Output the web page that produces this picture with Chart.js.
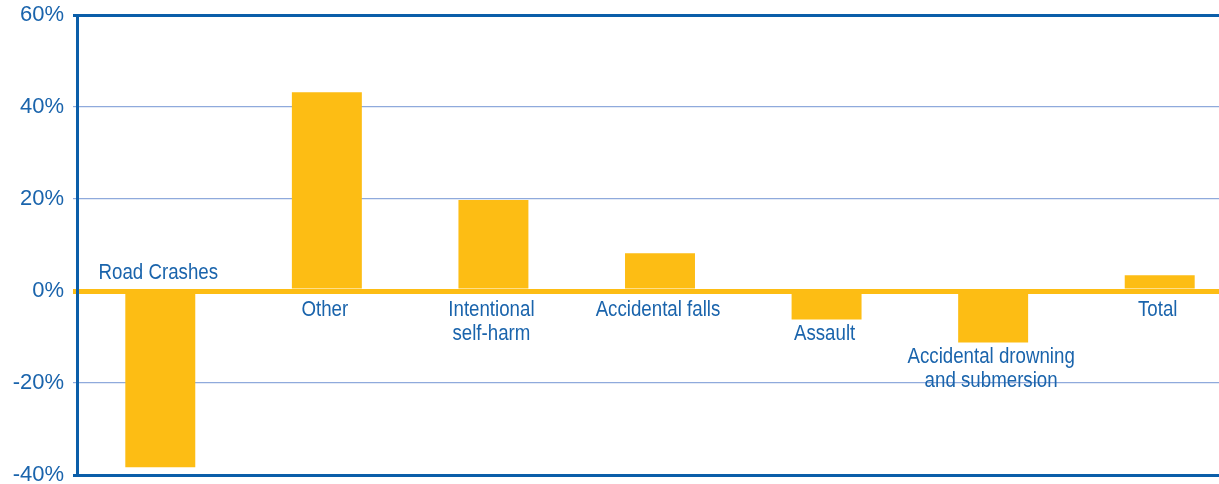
<!DOCTYPE html>
<html>
<head>
<meta charset="utf-8">
<script src="https://cdn.jsdelivr.net/npm/chart.js@4/dist/chart.umd.min.js"></script>
<style>
  html, body { margin: 0; padding: 0; background: #fff; overflow: hidden; }
  #wrap { width: 1219px; height: 484px; overflow: hidden; }
  #chart { display: block; }
</style>
</head>
<body>
<div id="wrap"><canvas id="chart" width="1243" height="484"></canvas></div>
<script>
// change in deaths by cause (%)
const causes = [
  ["Road Crashes"],
  ["Other"],
  ["Intentional", "self-harm"],
  ["Accidental falls"],
  ["Assault"],
  ["Accidental drowning", "and submersion"],
  ["Total"]
];
const changePct = [-38.3, 43.2, 19.8, 8.2, -6.2, -11.2, 3.4];
const yTicks = [-40, -20, 0, 20, 40, 60];

const YELLOW = "#FDBD14";
const DARK_BLUE = "#0B5EA9";
const GRID_BLUE = "#8FAADC";
const TEXT_BLUE = "#1A64AC";
const FONT = '"Liberation Sans", Arial, sans-serif';
const NARROW = 0.85; // squeeze category names to a narrow face

// category names sit under the zero line, or under a negative bar;
// a very long negative bar gets its name above the axis instead
const causeLabels = {
  id: "causeLabels",
  afterDatasetsDraw(chart) {
    const ctx = chart.ctx;
    const y = chart.scales.y;
    const zero = y.getPixelForValue(0);
    const deep = y.getPixelForValue(-20);
    const bars = chart.getDatasetMeta(0).data;
    ctx.save();
    ctx.font = "22px " + FONT;
    ctx.fillStyle = TEXT_BLUE;
    ctx.textAlign = "center";
    ctx.textBaseline = "middle";
    bars.forEach((bar, i) => {
      const lines = causes[i];
      let top;
      if (changePct[i] >= 0) top = zero + 19;
      else if (bar.y > deep) top = zero - 18 - (lines.length - 1) * 24;
      else top = bar.y + 14;
      lines.forEach((txt, k) => {
        ctx.save();
        ctx.translate(bar.x - 2, top + k * 24);
        ctx.scale(NARROW, 1);
        ctx.fillText(txt, 0, 0);
        ctx.restore();
      });
    });
    ctx.restore();
  }
};

new Chart(document.getElementById("chart"), {
  type: "bar",
  data: {
    labels: causes.map(c => c.join(" ")),
    datasets: [{
      data: changePct,
      backgroundColor: YELLOW,
      borderWidth: 0,
      categoryPercentage: 1,
      barPercentage: 0.42
    }]
  },
  options: {
    responsive: false,
    animation: false,
    layout: { padding: { top: 15, bottom: 9, left: 0, right: 0 } },
    plugins: {
      legend: { display: false },
      tooltip: { enabled: false }
    },
    scales: {
      x: { display: false },
      y: {
        min: -40,
        max: 60,
        afterBuildTicks: scale => { scale.ticks = yTicks.map(v => ({ value: v })); },
        afterFit: scale => {
          scale.width = 77;
          scale.paddingTop = 0;
          scale.paddingBottom = 0;
        },
        border: { display: true, color: DARK_BLUE, width: 3 },
        grid: {
          tickLength: 4,
          color: c => {
            const v = c.tick && c.tick.value;
            if (v === 0) return YELLOW;
            if (v === 60 || v === -40) return DARK_BLUE;
            return GRID_BLUE;
          },
          lineWidth: c => {
            const v = c.tick && c.tick.value;
            if (v === 0) return 5;
            if (v === 60 || v === -40) return 3;
            return 1.2;
          }
        },
        ticks: {
          padding: 9,
          color: TEXT_BLUE,
          font: { family: FONT, size: 22 },
          callback: v => v + "%"
        }
      }
    }
  },
  plugins: [causeLabels]
});
</script>
</body>
</html>
